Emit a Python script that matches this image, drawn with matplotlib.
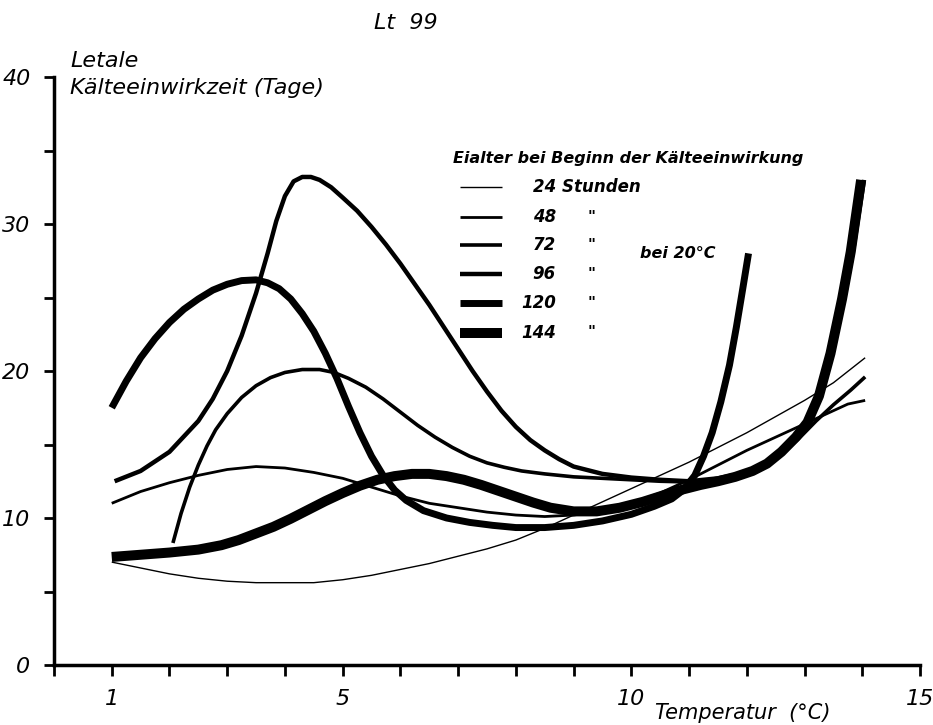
import matplotlib
matplotlib.use('Agg')
import matplotlib.pyplot as plt
from matplotlib.lines import Line2D

plt.rcParams['font.family'] = ['DejaVu Sans']
plt.rcParams['font.style'] = 'italic'

W, H = 933, 725

# Eialter (Stunden) und Linienstaerke
hours = ['24', '48', '72', '96', '120', '144']
widths = [1.0, 2.0, 2.6, 3.2, 5.0, 7.2]

# Temperatur (°C) / letale Kaelteeinwirkzeit (Tage)
temps_24 = [1, 1.5, 2, 2.5, 3, 3.5, 4, 4.5, 5, 5.5, 6, 6.5, 7, 7.5, 8, 8.5, 9, 9.5,
            10, 10.5, 11, 11.5, 12, 12.5, 13, 13.5, 14.05]
days_24 = [7.0, 6.6, 6.2, 5.9, 5.7, 5.6, 5.6, 5.6, 5.8, 6.1, 6.5, 6.9, 7.4, 7.9, 8.5, 9.3,
           10.2, 11.1, 12.0, 12.9, 13.8, 14.8, 15.8, 16.9, 18.0, 19.2, 20.9]

temps_48 = [1, 1.5, 2, 2.5, 3, 3.5, 4, 4.5, 5, 5.5, 6, 6.5, 7, 7.5, 8, 8.5, 9, 9.5,
            10, 10.5, 11, 11.5, 12, 12.5, 13, 13.5, 13.75, 14.05]
days_48 = [11.0, 11.8, 12.4, 12.9, 13.3, 13.5, 13.4, 13.1, 12.7, 12.1, 11.5, 11.0, 10.7,
           10.4, 10.2, 10.1, 10.2, 10.5, 11.0, 11.7, 12.6, 13.6, 14.6, 15.5, 16.4, 17.3,
           17.75, 18.0]

temps_72 = [2.06, 2.2, 2.35, 2.5, 2.65, 2.8, 3.0, 3.25, 3.5, 3.75, 4.0, 4.3, 4.6, 4.85,
            5.1, 5.4, 5.7, 6.0, 6.3, 6.6, 6.9, 7.2, 7.5, 7.8, 8.1, 8.5, 9.0, 9.5, 10.0,
            10.5, 11.0, 11.5, 12.0, 12.3, 12.6, 12.9, 13.2, 13.5, 13.8, 14.05]
days_72 = [8.3, 10.3, 12.1, 13.6, 14.9, 16.0, 17.1, 18.2, 19.0, 19.55, 19.9, 20.1, 20.1,
           19.9, 19.5, 18.9, 18.1, 17.2, 16.3, 15.5, 14.8, 14.2, 13.75, 13.45, 13.2, 13.0,
           12.8, 12.7, 12.6, 12.5, 12.45, 12.6, 13.0, 13.5, 14.3, 15.4, 16.6, 17.7, 18.7,
           19.6]

temps_96 = [1.05, 1.5, 2.0, 2.5, 2.75, 3.0, 3.25, 3.5, 3.7, 3.85, 4.0, 4.15, 4.3, 4.45,
            4.6, 4.8, 5.0, 5.25, 5.5, 5.75, 6.0, 6.25, 6.5, 6.75, 7.0, 7.25, 7.5, 7.75,
            8.0, 8.25, 8.5, 8.75, 9.0, 9.5, 10.0, 10.5, 11.0, 11.5, 12.0, 12.3, 12.6,
            12.85, 13.1, 13.3, 13.5, 13.7, 13.85, 14.03]
days_96 = [12.5, 13.2, 14.5, 16.6, 18.1, 20.0, 22.4, 25.3, 28.0, 30.2, 31.9, 32.9, 33.2,
           33.2, 33.0, 32.5, 31.8, 30.9, 29.8, 28.6, 27.3, 25.9, 24.5, 23.0, 21.5, 20.0,
           18.6, 17.3, 16.2, 15.3, 14.6, 14.0, 13.5, 13.0, 12.75, 12.6, 12.5, 12.7, 13.1,
           13.6, 14.5, 15.5, 16.9, 18.7, 21.6, 25.2, 28.4, 33.0]

temps_120 = [1.0, 1.25, 1.5, 1.75, 2.0, 2.25, 2.5, 2.75, 3.0, 3.25, 3.5, 3.7, 3.9, 4.1,
             4.3, 4.5, 4.7, 4.9, 5.1, 5.3, 5.5, 5.7, 5.9, 6.1, 6.4, 6.8, 7.2, 7.6, 8.0,
             8.5, 9.0, 9.5, 10.0, 10.4, 10.7, 10.9, 11.1, 11.25, 11.4, 11.55, 11.7,
             11.82, 11.93, 12.03]
days_120 = [17.5, 19.3, 20.9, 22.2, 23.3, 24.2, 24.9, 25.5, 25.9, 26.15, 26.2, 26.0,
            25.6, 24.9, 23.9, 22.7, 21.2, 19.5, 17.6, 15.8, 14.2, 12.9, 11.9, 11.2, 10.5,
            10.0, 9.7, 9.5, 9.35, 9.35, 9.5, 9.8, 10.25, 10.8, 11.3, 11.9, 12.9, 14.2,
            15.8, 17.9, 20.4, 23.0, 25.6, 28.0]

temps_144 = [1.0, 1.5, 2.0, 2.5, 2.9, 3.2, 3.5, 3.8, 4.1, 4.4, 4.7, 5.0, 5.3, 5.6, 5.9,
             6.2, 6.5, 6.8, 7.1, 7.4, 7.7, 8.0, 8.3, 8.6, 9.0, 9.4, 9.8, 10.2, 10.6,
             10.9, 11.2, 11.5, 11.8, 12.1, 12.35, 12.6, 12.85, 13.05, 13.25, 13.45,
             13.65, 13.8, 13.98]
days_144 = [7.35, 7.5, 7.65, 7.85, 8.15, 8.5, 8.95, 9.4, 9.95, 10.55, 11.15, 11.7, 12.2,
            12.6, 12.85, 13.0, 13.0, 12.85, 12.6, 12.25, 11.85, 11.45, 11.05, 10.7, 10.45,
            10.45, 10.7, 11.1, 11.6, 11.95, 12.25, 12.5, 12.8, 13.2, 13.7, 14.5, 15.5,
            16.5, 18.3, 21.2, 24.9, 28.1, 33.0]

series = [(temps_24, days_24), (temps_48, days_48), (temps_72, days_72),
          (temps_96, days_96), (temps_120, days_120), (temps_144, days_144)]


def px(x, y):
    return x / W, 1 - y / H


fig = plt.figure(figsize=(W / 100, H / 100), dpi=100)
ax = fig.add_axes([54 / W, 1 - 665 / H, (920 - 54) / W, (665 - 77) / H])

for (t, d), lw in zip(series, widths):
    ax.plot(t, d, color='black', lw=lw, solid_capstyle='butt', solid_joinstyle='round')

ax.set_xlim(0, 15)
ax.set_ylim(0, 40)
ax.set_xticks([1, 5, 10, 15])
ax.set_xticks(range(0, 16), minor=True)
ax.set_yticks([0, 10, 20, 30, 40])
ax.set_yticks(range(0, 41, 5), minor=True)
ax.tick_params(which='both', direction='out', width=2, color='black')
ax.tick_params(axis='x', which='both', length=8, labelsize=16, pad=9)
ax.tick_params(axis='y', which='both', length=7, labelsize=16, pad=10)
for side in ['top', 'right']:
    ax.spines[side].set_visible(False)
for side in ['left', 'bottom']:
    ax.spines[side].set_linewidth(2.5)

# Beschriftungen
fig.text(*px(406, 23), 'Lt  99', ha='center', va='center', fontsize=16)
fig.text(*px(70, 61), 'Letale', ha='left', va='center', fontsize=16)
fig.text(*px(70, 88), 'Kälteeinwirkzeit (Tage)', ha='left', va='center', fontsize=16)
fig.text(*px(655, 723), 'Temperatur  (°C)', ha='left', va='bottom', fontsize=15)

# Legende
fig.text(*px(453, 158), 'Eialter bei Beginn der Kälteeinwirkung', ha='left', va='center',
         fontsize=11.5, fontweight='bold')
rows = [187, 217, 245, 274, 303, 333]
for i, (h, lw, yy) in enumerate(zip(hours, widths, rows)):
    x0, y0 = px(460, yy)
    x1, _ = px(502, yy)
    fig.add_artist(Line2D([x0, x1], [y0, y0], color='black', lw=lw,
                          solid_capstyle='butt', transform=fig.transFigure))
    if i == 0:
        fig.text(*px(533, yy), '24 Stunden', ha='left', va='center', fontsize=12,
                 fontweight='bold')
    else:
        fig.text(*px(556, yy), h, ha='right', va='center', fontsize=12, fontweight='bold')
        fig.text(*px(592, yy), '"', ha='center', va='center', fontsize=11, fontweight='bold')
fig.text(*px(640, 254), 'bei 20°C', ha='left', va='center', fontsize=11.5, fontweight='bold')

fig.savefig('out.png', dpi=100)
